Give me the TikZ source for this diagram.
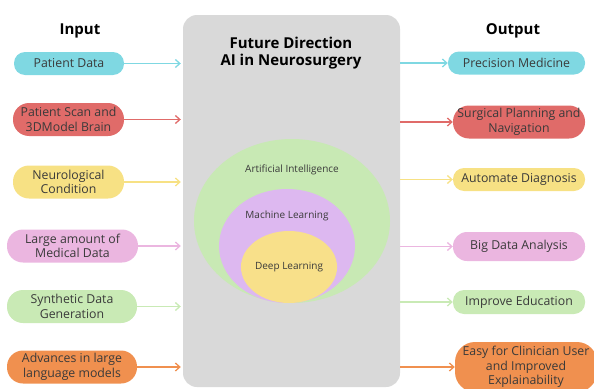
\documentclass[tikz,border=0pt]{standalone}
\usepackage{fontspec}
\setmainfont{Open Sans}
\usetikzlibrary{arrows.meta, positioning, shapes.geometric}

\definecolor{txt}{HTML}{3A3A3A}
\definecolor{panel}{HTML}{D9D9D9}
\definecolor{pcyan}{HTML}{7FD8E2}
\definecolor{pred}{HTML}{E06B69}
\definecolor{pyellow}{HTML}{F7E184}
\definecolor{ppink}{HTML}{EBB6E0}
\definecolor{pgreen}{HTML}{C9EAB5}
\definecolor{porange}{HTML}{F0904F}
\definecolor{aigreen}{HTML}{C8E9B4}
\definecolor{mlpurple}{HTML}{DDB8F0}
\definecolor{dlyellow}{HTML}{F8E08A}

\begin{document}
\begin{tikzpicture}[x=1pt, y=-1pt, node distance=10pt,
  pill/.style={rounded corners=11pt, minimum height=23pt, align=center, inner sep=0pt,
               text=txt, font=\fontsize{12.3}{14.5}\selectfont},
  tall/.style={minimum height=33pt, rounded corners=16pt},
  heading/.style={font=\fontsize{15}{17.5}\selectfont\bfseries},
  ring/.style={ellipse, inner sep=0pt, text=txt, font=\fontsize{10}{12}\selectfont},
  arrow/.style={-{Straight Barb[length=4.5pt, width=8pt]}, line width=1.3pt}]

  \useasboundingbox (0,0) rectangle (594,388);

  % centre panel
  \node[fill=panel, rounded corners=14pt, minimum width=217pt, minimum height=372pt] (core) at (291.5,201) {};
  \node[heading, align=center] (title) at (291,53) {Future Direction\\AI in Neurosurgery};

  % nested AI circles
  \node[ring, fill=aigreen, minimum width=196pt, minimum height=164pt] (ai) at (292,221) {};
  \node[ring, fill=mlpurple, minimum width=136pt, minimum height=114pt] (ml) at (287,246) {};
  \node[ring, fill=dlyellow, minimum width=88pt, minimum height=72pt] (dl) at (289,267) {Deep Learning};
  \node[ring, below=24pt of ai.north] (ailab) {Artificial Intelligence};
  \node[ring, below=20pt of ml.north] (mllab) {Machine Learning};

  % inputs
  \node[heading] (inhead) at (80,31) {Input};
  \node[pill, fill=pcyan, minimum width=110pt]         (in1) at (69,63.5)  {Patient Data};
  \node[pill, tall, fill=pred, minimum width=111pt]    (in2) at (68.5,119.5) {Patient Scan and\\3DModel Brain};
  \node[pill, tall, fill=pyellow, minimum width=111pt] (in3) at (68.5,182) {Neurological\\Condition};
  \node[pill, tall, fill=ppink, minimum width=131pt]   (in4) at (72.5,246) {Large amount of\\Medical Data};
  \node[pill, tall, fill=pgreen, minimum width=130pt]  (in5) at (72,306.5) {Synthetic Data\\Generation};
  \node[pill, tall, fill=porange, minimum width=130pt] (in6) at (72,367)  {Advances in large\\language models};

  % outputs
  \node[heading] (outhead) at (513,31) {Output};
  \node[pill, fill=pcyan, minimum width=137pt]         (out1) at (516.5,63) {Precision Medicine};
  \node[pill, tall, fill=pred, minimum width=132pt]    (out2) at (519,122)  {Surgical Planning and\\Navigation};
  \node[pill, fill=pyellow, minimum width=132pt]       (out3) at (519,179.5) {Automate Diagnosis};
  \node[pill, fill=ppink, minimum width=132pt, minimum height=29pt, rounded corners=14pt] (out4) at (519,246.5) {Big Data Analysis};
  \node[pill, fill=pgreen, minimum width=132pt, minimum height=24pt] (out5) at (519,302) {Improve Education};
  \node[pill, fill=porange, minimum width=142pt, minimum height=50pt, rounded corners=20pt] (out6) at (526,367)
    {Easy for Clinician User\\and Improved\\Explainability};

  \foreach \i/\c in {1/pcyan, 2/pred, 3/pyellow, 4/ppink, 5/pgreen, 6/porange} {
    \draw[arrow, \c] (in\i.east) -- ([xshift=-2pt]core.west |- in\i.east);
    \draw[arrow, \c] (core.east |- out\i.west) -- (out\i.west);
  }
\end{tikzpicture}
\end{document}
